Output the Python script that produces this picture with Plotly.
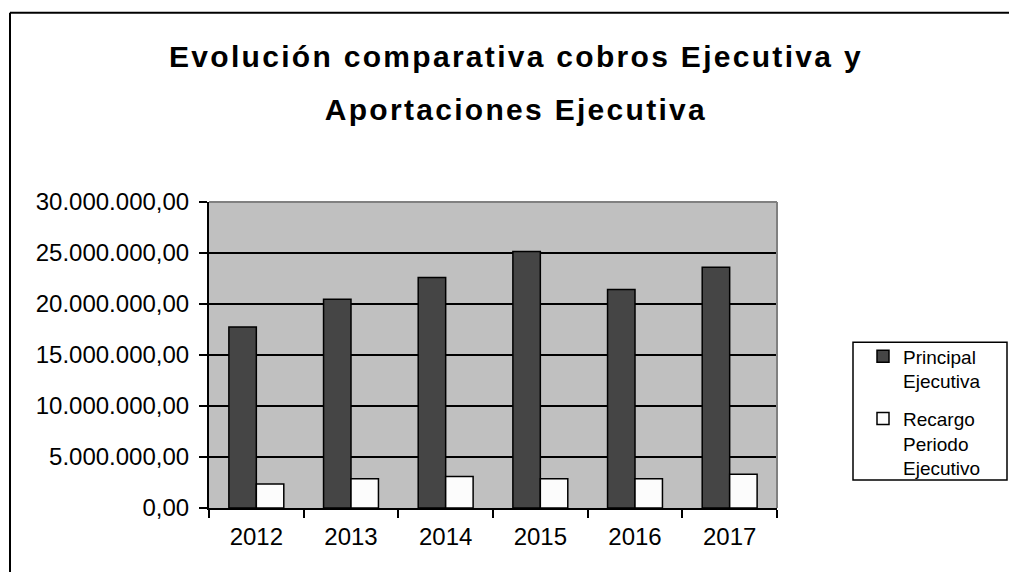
import plotly.graph_objects as go

years = ["2012", "2013", "2014", "2015", "2016", "2017"]
principal_ejecutiva = [17750000, 20460000, 22610000, 25150000, 21430000, 23600000]
recargo_periodo_ejecutivo = [2350000, 2870000, 3100000, 2870000, 2870000, 3300000]
y_ticks = [0, 5000000, 10000000, 15000000, 20000000, 25000000, 30000000]
title_lines = ["Evolución comparativa cobros Ejecutiva y", "Aportaciones Ejecutiva"]
series_names = ["Principal<br>Ejecutiva", "Recargo<br>Periodo<br>Ejecutivo"]

# the page body margin is removed in post_script, so figure == page
W, H = 1009, 572
L, R, T, B = 209, 232, 201.5, 64
PW = W - L - R
PH = H - T - B


def px(x):  # page pixel -> paper coord
    return (x - L) / PW


def py(y):
    return (H - B - y) / PH


FONT = "Liberation Sans, Arial, sans-serif"

fig = go.Figure()
fig.add_trace(go.Bar(
    x=years, y=principal_ejecutiva, name=series_names[0],
    marker=dict(color="#454545", line=dict(color="#000000", width=1.5)),
    legendgroup="a",
))
fig.add_trace(go.Bar(
    x=years, y=recargo_periodo_ejecutivo, name=series_names[1],
    marker=dict(color="#FCFCFC", line=dict(color="#000000", width=1.5)),
    legendgroup="b",
))

shapes = [
    # outer frame (left and top)
    dict(type="line", xref="paper", yref="paper", x0=px(10), x1=px(10), y0=py(12), y1=py(580),
         line=dict(color="#000000", width=2)),
    dict(type="line", xref="paper", yref="paper", x0=px(10), x1=px(1015), y0=py(12), y1=py(12),
         line=dict(color="#000000", width=2)),
    # plot area border (top and right)
    dict(type="line", xref="paper", yref="paper", x0=0, x1=1, y0=1, y1=1,
         line=dict(color="#808080", width=2), layer="above"),
    dict(type="line", xref="paper", yref="paper", x0=1, x1=1, y0=0, y1=1,
         line=dict(color="#808080", width=2), layer="above"),
    # legend box
    dict(type="rect", xref="paper", yref="paper", x0=px(853), x1=px(1007), y0=py(480), y1=py(342),
         line=dict(color="#000000", width=1.5), fillcolor="rgba(0,0,0,0)"),
]

annotations = [
    dict(text="<b>%s</b>" % title_lines[0], xref="paper", yref="paper", x=px(516), y=py(56),
         xanchor="center", yanchor="middle", showarrow=False,
         font=dict(family=FONT, size=30, color="#000000")),
    dict(text="<b>%s</b>" % title_lines[1], xref="paper", yref="paper", x=px(516), y=py(109),
         xanchor="center", yanchor="middle", showarrow=False,
         font=dict(family=FONT, size=30, color="#000000")),
]

fig.update_layout(
    width=W, height=H,
    margin=dict(l=L, r=R, t=T, b=B, pad=0),
    paper_bgcolor="#FFFFFF",
    plot_bgcolor="#C0C0C0",
    separators=",.",
    barmode="group",
    bargap=0.42,
    bargroupgap=0,
    font=dict(family=FONT, color="#000000"),
    shapes=shapes,
    annotations=annotations,
    showlegend=True,
    legend=dict(
        x=px(863), y=py(337), xanchor="left", yanchor="top",
        bgcolor="rgba(0,0,0,0)", borderwidth=0,
        font=dict(family=FONT, size=19, color="#000000"),
        valign="top", traceorder="grouped", tracegroupgap=10,
        itemwidth=30,
    ),
    xaxis=dict(
        type="category",
        showline=True, linecolor="#000000", linewidth=2,
        ticks="outside", ticklen=8, tickwidth=2, tickcolor="#000000",
        tickson="boundaries",
        showgrid=False,
        tickfont=dict(family=FONT, size=24, color="#000000"),
        ticklabelstandoff=6,
    ),
    yaxis=dict(
        range=[0, 30000000],
        tickvals=y_ticks,
        tickformat=",.2f",
        showline=True, linecolor="#000000", linewidth=2,
        ticks="outside", ticklen=8, tickwidth=2, tickcolor="#000000",
        showgrid=True, gridcolor="#000000", gridwidth=1.5,
        zeroline=False,
        tickfont=dict(family=FONT, size=24, color="#000000"),
        ticklabelstandoff=5,
    ),
)

post = (
    "document.body.style.margin='0';"
    "document.body.style.overflow='hidden';"
    "var s=document.createElement('style');"
    "s.textContent='text.annotation-text{letter-spacing:2.3px}';"
    "document.head.appendChild(s);"
)

fig.write_html("out.html", post_script=post, config={"displayModeBar": False})
